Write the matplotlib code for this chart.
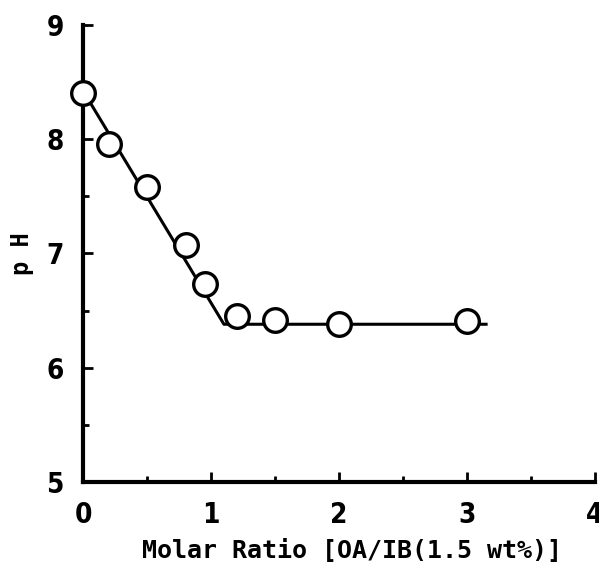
import matplotlib.pyplot as plt
from matplotlib.ticker import MultipleLocator

# measured points
ratio = [0, 0.2, 0.5, 0.8, 0.95, 1.2, 1.5, 2.0, 3.0]
ph = [8.40, 7.96, 7.58, 7.07, 6.73, 6.45, 6.42, 6.38, 6.41]

# drawn trend line
fit_x = [0, 1.1, 3.15]
fit_y = [8.42, 6.38, 6.38]

fig = plt.figure(figsize=(5.99, 5.65), dpi=100)
ax = fig.add_axes([0.139, 0.147, 0.854, 0.809])

ax.plot(fit_x, fit_y, color="black", lw=2.2, zorder=2, clip_on=False)
ax.plot(ratio, ph, "o", ms=17, mfc="white", mec="black", mew=2.4, zorder=3, clip_on=False)

ax.set_xlim(0, 4)
ax.set_ylim(5, 9)
ax.spines["top"].set_visible(False)
ax.spines["right"].set_visible(False)
ax.spines["left"].set_linewidth(3)
ax.spines["bottom"].set_linewidth(3)

ax.xaxis.set_major_locator(MultipleLocator(1))
ax.xaxis.set_minor_locator(MultipleLocator(0.5))
ax.yaxis.set_major_locator(MultipleLocator(1))
ax.yaxis.set_minor_locator(MultipleLocator(0.5))
ax.tick_params(which="major", direction="in", length=7, width=2, pad=14)
ax.tick_params(which="minor", direction="in", length=4, width=2)

for lab in ax.get_xticklabels() + ax.get_yticklabels():
    lab.set_fontfamily("DejaVu Sans")
    lab.set_fontstretch("condensed")
    lab.set_fontweight("bold")
    lab.set_fontsize(20)

ax.set_xlabel("Molar Ratio [OA/IB(1.5 wt%)]", fontsize=18, fontweight="bold",
              family="DejaVu Sans Mono")
ax.xaxis.set_label_coords(0.525, -0.125)
ax.set_ylabel("p H", fontsize=17, fontweight="bold", family="DejaVu Sans Mono", labelpad=9)

fig.savefig("out.png", dpi=100)
